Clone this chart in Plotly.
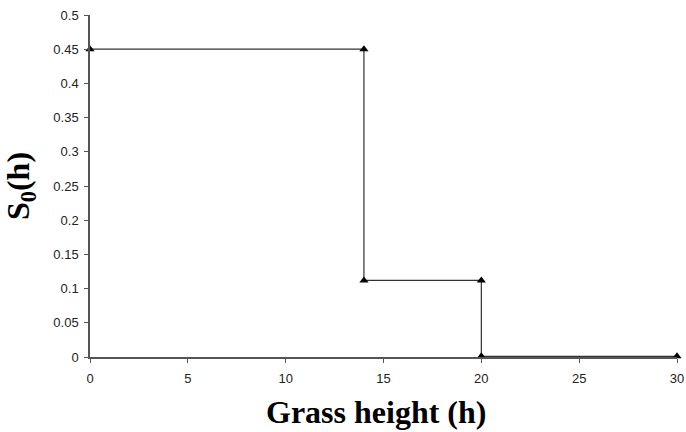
import plotly.graph_objects as go

# step survival curve S0(h) against grass height
height = [0, 14, 14, 20, 20, 30]
s0 = [0.45, 0.45, 0.112, 0.112, 0.001, 0.001]

x_ticks = [0, 5, 10, 15, 20, 25, 30]
y_ticks = [0, 0.05, 0.1, 0.15, 0.2, 0.25, 0.3, 0.35, 0.4, 0.45, 0.5]
y_labels = ["0", "0.05", "0.1", "0.15", "0.2", "0.25", "0.3", "0.35", "0.4", "0.45", "0.5"]

fig = go.Figure()
fig.add_trace(go.Scatter(
    x=height, y=s0, mode="lines+markers",
    line=dict(color="#333333", width=1.2),
    marker=dict(symbol="triangle-up", size=8, color="black"),
    showlegend=False, cliponaxis=False,
))

tick_font = dict(family="Liberation Sans, Arial", size=13, color="#222222")
serif = "Liberation Serif, Times New Roman"

fig.update_layout(
    width=686, height=432,
    margin=dict(l=90, r=9, t=15, b=75),
    plot_bgcolor="white", paper_bgcolor="white",
    xaxis=dict(
        range=[0, 30], tickvals=x_ticks, automargin=False, ticklabeloverflow="allow",
        ticklabelstandoff=5,
        showgrid=False, zeroline=False, showline=True, linecolor="#555555", linewidth=1.5,
        ticks="outside", ticklen=4, tickcolor="#555555", tickfont=tick_font,
    ),
    yaxis=dict(
        range=[0, 0.5], tickvals=y_ticks, ticktext=y_labels, automargin=False,
        ticklabeloverflow="allow", ticklabelstandoff=3,
        showgrid=False, zeroline=False, showline=True, linecolor="#555555", linewidth=1.5,
        ticks="outside", ticklen=4, tickcolor="#555555", tickfont=tick_font,
        title=dict(text="<b>S<sub>0</sub>(h)</b>",
                   font=dict(family=serif, size=32, color="black"), standoff=19),
    ),
)

fig.add_annotation(
    text="<b>Grass height (h)</b>", xref="paper", yref="paper",
    x=0.487, y=-0.162, xanchor="center", yanchor="middle", showarrow=False,
    font=dict(family=serif, size=32, color="black"),
)

# drop the default page margin so the figure sits at the window's corner
fig.write_html("out.html", config={"displayModeBar": False},
               post_script="document.body.style.margin = '0px';")
